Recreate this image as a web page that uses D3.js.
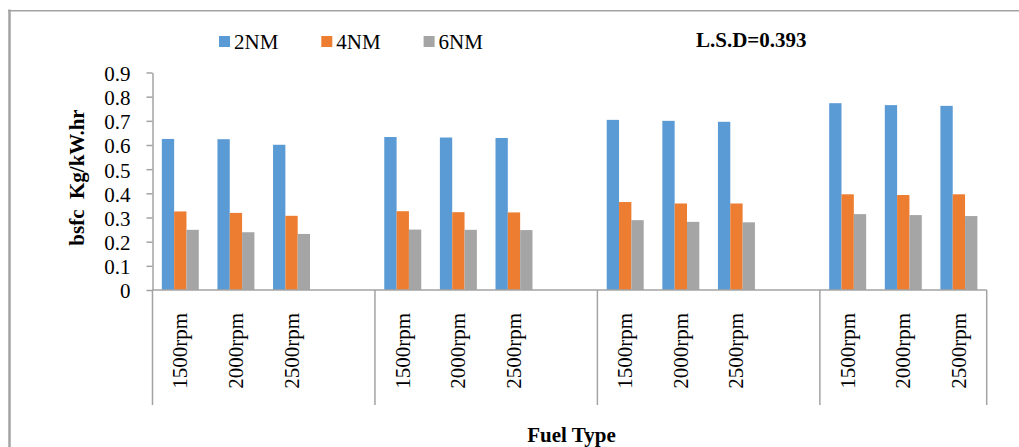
<!DOCTYPE html>
<html>
<head>
<meta charset="utf-8">
<script src="https://cdn.jsdelivr.net/npm/d3@7"></script>
<style>
  html, body { margin: 0; padding: 0; background: #ffffff; }
  svg { display: block; font-family: "Liberation Serif", "Times New Roman", serif; }
</style>
</head>
<body>
<svg id="chart" width="1019" height="447"></svg>
<script>
// Engine speeds shown inside each fuel-type group
const rpmLabels = ["1500rpm", "2000rpm", "2500rpm"];
// Number of fuel-type groups along the category axis
const groupCount = 4;
// Load levels (series)
const seriesNames = ["2NM", "4NM", "6NM"];
const seriesColors = ["#5b9bd5", "#ed7d31", "#a5a5a5"];
// bsfc values (kg/kW.hr), group by group, 1500 / 2000 / 2500 rpm
const values2NM = [0.625, 0.624, 0.601, 0.633, 0.631, 0.629, 0.704, 0.700, 0.696, 0.773, 0.765, 0.762];
const values4NM = [0.325, 0.319, 0.307, 0.326, 0.322, 0.321, 0.364, 0.358, 0.358, 0.396, 0.393, 0.396];
const values6NM = [0.249, 0.239, 0.232, 0.250, 0.249, 0.248, 0.289, 0.282, 0.280, 0.314, 0.310, 0.306];
// Value-axis ticks
const yTicks = [0, 0.1, 0.2, 0.3, 0.4, 0.5, 0.6, 0.7, 0.8, 0.9];
const yTitle = "bsfc  Kg/kW.hr";
const xTitle = "Fuel Type";
const lsdLabel = "L.S.D=0.393";

const seriesValues = [values2NM, values4NM, values6NM];

const svg = d3.select("#chart");
const axisColor = "#a3a3a3";
const fontSize = 21;

// Chart-area frame
svg.append("line").attr("x1", 9.5).attr("x2", 9.5).attr("y1", 9.5).attr("y2", 447)
  .attr("stroke", "#a3a3a3").attr("stroke-width", 2.5);
svg.append("line").attr("x1", 8).attr("x2", 1019).attr("y1", 10.8).attr("y2", 10.8)
  .attr("stroke", "#a3a3a3").attr("stroke-width", 1.5);

// Plot geometry
const plotLeft = 152.5, plotRight = 986.7, plotTop = 72.5, plotBottom = 290;

// Each group holds the three speeds followed by a spacer slot; the last group has no spacer
const slotsPerGroup = rpmLabels.length + 1;
const totalSlots = groupCount * slotsPerGroup - 1;
const slotScale = d3.scaleLinear().domain([0, totalSlots]).range([plotLeft, plotRight]);

const slotStep = slotScale(1) - slotScale(0);
const clusterWidth = slotStep * 0.665;
const barScale = d3.scaleBand().domain(seriesNames)
  .range([-clusterWidth / 2, clusterWidth / 2]).padding(0);

const y = d3.scaleLinear().domain([0, 0.9]).range([plotBottom, plotTop]);

// Flatten the data into bar records
const points = [];
for (let g = 0; g < groupCount; g++) {
  rpmLabels.forEach((rpm, i) => {
    const idx = g * rpmLabels.length + i;
    const slot = g * slotsPerGroup + i;
    points.push({ g, rpm, slot, idx });
  });
}

const bars = [];
points.forEach(p => {
  seriesNames.forEach((s, si) => {
    bars.push({ slot: p.slot, series: s, color: seriesColors[si], value: seriesValues[si][p.idx] });
  });
});

// Bars
svg.append("g").selectAll("rect").data(bars).join("rect")
  .attr("x", d => slotScale(d.slot + 0.5) + barScale(d.series))
  .attr("y", d => y(d.value))
  .attr("width", barScale.bandwidth())
  .attr("height", d => y(0) - y(d.value))
  .attr("fill", d => d.color);

// Value axis
const yAxis = d3.axisLeft(y).tickValues(yTicks)
  .tickFormat(d => d === 0 ? "0" : d3.format(".1f")(d))
  .tickSize(6).tickSizeOuter(0).tickPadding(16);
const gy = svg.append("g").attr("transform", `translate(${plotLeft},0)`).call(yAxis);
gy.select(".domain").attr("stroke", axisColor).attr("stroke-width", 1.5);
gy.selectAll(".tick line").attr("stroke", axisColor).attr("stroke-width", 1.5);
gy.selectAll(".tick text").attr("fill", "#000").attr("font-size", fontSize)
  .attr("font-family", "Liberation Serif").attr("dy", "0.38em");

// Category axis line
svg.append("line")
  .attr("x1", plotLeft).attr("x2", plotRight)
  .attr("y1", y(0)).attr("y2", y(0))
  .attr("stroke", axisColor).attr("stroke-width", 1.5);

// Group divider lines
const dividerSlots = d3.range(groupCount).map(g => g * slotsPerGroup).concat([totalSlots]);
svg.append("g").selectAll("line").data(dividerSlots).join("line")
  .attr("x1", d => slotScale(d)).attr("x2", d => slotScale(d))
  .attr("y1", y(0)).attr("y2", 405)
  .attr("stroke", axisColor).attr("stroke-width", 1.5);

// Rotated speed labels
svg.append("g").selectAll("text").data(points).join("text")
  .attr("transform", d => `translate(${slotScale(d.slot + 0.5) + 7},313) rotate(-90)`)
  .attr("text-anchor", "end")
  .attr("font-size", fontSize)
  .attr("fill", "#000")
  .text(d => d.rpm);

// Axis titles
svg.append("text")
  .attr("transform", "translate(84,177.5) rotate(-90)")
  .attr("text-anchor", "middle")
  .attr("font-size", fontSize).attr("font-weight", "bold")
  .attr("xml:space", "preserve").style("white-space", "pre")
  .text(yTitle);

svg.append("text")
  .attr("x", 571.5).attr("y", 442)
  .attr("text-anchor", "middle")
  .attr("font-size", fontSize).attr("font-weight", "bold")
  .text(xTitle);

// Legend
const legendX = 219, legendStep = 102.3, legendY = 36;
const legend = svg.append("g").selectAll("g").data(seriesNames).join("g")
  .attr("transform", (d, i) => `translate(${legendX + i * legendStep},${legendY})`);
legend.append("rect").attr("width", 11).attr("height", 11)
  .attr("fill", (d, i) => seriesColors[i]);
legend.append("text").attr("x", 15).attr("y", 12.5)
  .attr("font-size", fontSize).attr("fill", "#000")
  .text(d => d);

// Least significant difference note
svg.append("text")
  .attr("x", 696).attr("y", 46.5)
  .attr("font-size", fontSize).attr("font-weight", "bold")
  .text(lsdLabel);
</script>
</body>
</html>
